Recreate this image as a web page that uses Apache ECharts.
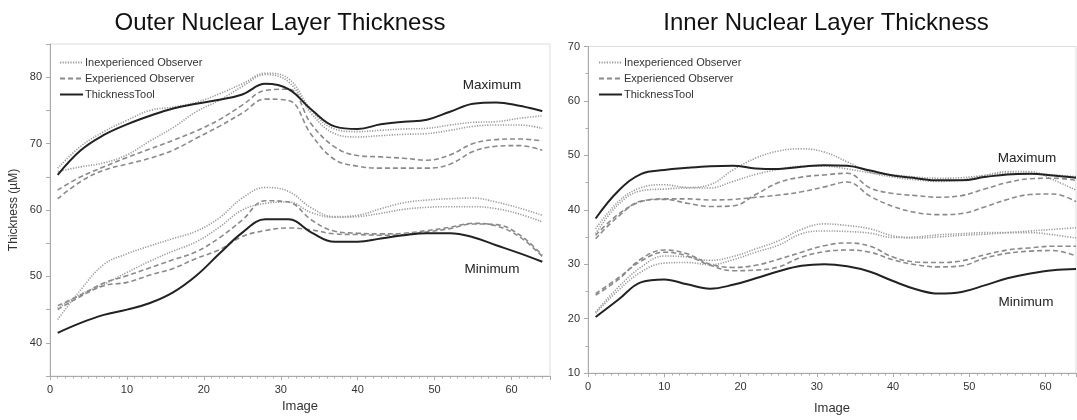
<!DOCTYPE html>
<html>
<head>
<meta charset="utf-8">
<script src="https://cdn.jsdelivr.net/npm/echarts@6/dist/echarts.min.js"></script>
<style>
  html, body { margin: 0; padding: 0; background: #fff; }
  #chart { width: 1077px; height: 420px; }
</style>
</head>
<body>
<div id="chart"></div>
<script>
// image index where each curve was read
const images = [1, 4, 7, 10, 13, 16, 19, 22, 25, 28, 31, 34, 37, 40, 43, 46, 49, 52, 55, 58, 61, 64]

// Outer nuclear layer - maximum
const onlMaxTool   = [65.3, 69.0, 71.3, 72.9, 74.2, 75.3, 76.0, 76.6, 77.4, 79.0, 78.2, 75.1, 72.6, 72.2, 72.9, 73.3, 73.6, 74.8, 76.0, 76.2, 75.7, 74.9]
const onlMaxInexpA = [66.3, 69.6, 71.8, 73.5, 75.0, 75.5, 76.2, 77.5, 79.0, 80.6, 79.8, 75.0, 72.2, 71.8, 72.0, 72.2, 72.3, 72.8, 73.2, 73.3, 73.8, 74.2]
const onlMaxInexpB = [65.8, 66.5, 67.1, 68.3, 70.4, 72.4, 74.8, 76.5, 78.6, 80.4, 79.3, 74.5, 71.5, 71.0, 71.2, 71.4, 71.5, 72.0, 72.6, 72.8, 72.8, 72.3]
const onlMaxExpA   = [63.0, 65.0, 66.5, 67.9, 69.2, 70.5, 71.9, 73.6, 75.8, 78.0, 78.2, 72.9, 69.5, 68.2, 68.0, 67.8, 67.5, 68.3, 70.0, 70.6, 70.7, 70.4]
const onlMaxExpB   = [61.7, 64.3, 66.0, 66.9, 67.8, 69.0, 70.8, 72.6, 74.6, 76.7, 76.5, 71.3, 67.6, 66.6, 66.3, 66.3, 66.3, 66.9, 68.8, 69.6, 69.7, 69.0]
// Outer nuclear layer - minimum
const onlMinTool   = [41.5, 43.0, 44.2, 45.0, 46.0, 47.6, 50.1, 53.4, 56.6, 58.6, 58.6, 56.6, 55.2, 55.2, 55.7, 56.2, 56.5, 56.5, 55.9, 54.7, 53.5, 52.2]
const onlMinInexpA = [43.5, 48.0, 51.8, 53.4, 54.6, 55.7, 56.8, 58.8, 61.8, 63.4, 62.8, 60.3, 59.0, 59.2, 60.2, 61.1, 61.5, 61.7, 61.8, 61.2, 60.3, 59.2]
const onlMinInexpB = [45.2, 47.3, 48.8, 50.6, 52.3, 53.8, 55.2, 57.4, 60.0, 61.0, 61.2, 59.6, 58.9, 59.0, 59.5, 60.1, 60.4, 60.5, 60.5, 60.2, 59.4, 58.2]
const onlMinExpA   = [45.6, 47.2, 49.0, 50.1, 51.3, 52.5, 53.7, 55.8, 58.5, 61.4, 61.2, 58.5, 56.8, 56.5, 56.4, 56.5, 56.9, 57.4, 58.0, 57.6, 56.0, 53.0]
const onlMinExpB   = [45.0, 47.0, 48.6, 49.1, 50.2, 51.2, 52.7, 54.0, 56.0, 56.9, 57.3, 57.0, 56.4, 56.3, 56.2, 56.3, 56.7, 57.2, 57.9, 57.8, 56.3, 53.2]

// Inner nuclear layer - maximum
const inlMaxTool   = [38.4, 43.5, 46.6, 47.3, 47.7, 48.0, 48.1, 47.6, 47.5, 47.9, 48.2, 48.1, 47.2, 46.3, 45.8, 45.4, 45.4, 46.0, 46.5, 46.6, 46.3, 45.9]
const inlMaxInexpA = [36.5, 41.5, 44.1, 44.6, 44.1, 44.6, 47.3, 49.5, 50.8, 51.2, 50.6, 48.8, 46.9, 46.0, 45.5, 45.2, 45.5, 46.3, 47.0, 47.0, 45.5, 43.6]
const inlMaxInexpB = [35.6, 41.0, 43.5, 43.8, 44.0, 44.0, 45.2, 46.5, 47.4, 48.0, 48.0, 47.5, 46.8, 46.4, 46.0, 45.8, 45.9, 46.3, 46.7, 46.6, 46.4, 46.1]
const inlMaxExpA   = [34.7, 38.8, 41.6, 41.9, 41.2, 40.6, 40.7, 42.8, 45.0, 46.0, 46.4, 46.7, 44.0, 43.0, 42.6, 42.3, 42.6, 43.8, 45.0, 45.7, 45.8, 45.4]
const inlMaxExpB   = [35.3, 39.2, 41.5, 42.0, 42.0, 41.8, 41.9, 42.3, 42.7, 43.3, 44.2, 45.1, 42.5, 40.6, 39.5, 39.1, 39.3, 40.5, 41.9, 42.8, 42.9, 41.5]
// Inner nuclear layer - minimum
const inlMinTool   = [20.3, 23.5, 26.7, 27.2, 26.3, 25.5, 26.2, 27.4, 28.7, 29.7, 30.0, 29.6, 28.6, 26.9, 25.4, 24.6, 24.9, 26.1, 27.4, 28.3, 28.9, 29.1]
const inlMinInexpA = [21.2, 25.8, 29.5, 31.5, 31.3, 30.7, 31.4, 32.8, 34.3, 36.4, 37.4, 37.1, 36.5, 35.2, 34.8, 35.0, 35.3, 35.5, 35.8, 36.1, 36.4, 36.7]
const inlMinInexpB = [21.0, 25.2, 28.6, 30.2, 30.3, 29.9, 30.8, 32.2, 33.5, 35.6, 36.1, 36.0, 35.7, 34.9, 35.0, 35.4, 35.6, 35.8, 35.8, 35.8, 35.4, 34.8]
const inlMinExpA   = [24.3, 27.2, 31.0, 32.6, 31.9, 30.0, 29.4, 29.8, 30.9, 32.2, 33.4, 33.9, 33.3, 31.3, 30.4, 30.3, 30.6, 31.7, 32.6, 33.0, 33.3, 33.3]
const inlMinExpB   = [24.6, 27.5, 30.6, 32.2, 31.5, 29.8, 28.8, 28.9, 29.5, 31.3, 32.3, 32.6, 32.2, 30.8, 29.9, 29.5, 29.7, 31.1, 32.0, 32.4, 32.5, 31.5]

const legendNames = ['Inexperienced Observer', 'Experienced Observer', 'ThicknessTool']
const titles = ['Outer Nuclear Layer Thickness', 'Inner Nuclear Layer Thickness']

const font = 'Liberation Sans, Arial, Helvetica, sans-serif'
const axisColor = '#aaaaaa'
const styles = {
  'Inexperienced Observer': { color: '#9a9a9a', width: 1.6, type: [1.2, 1.4] },
  'Experienced Observer': { color: '#8a8a8a', width: 1.6, type: [5, 3] },
  'ThicknessTool': { color: '#222222', width: 2 },
}

function line(name, ys, gridIndex) {
  return {
    name,
    type: 'line',
    xAxisIndex: gridIndex,
    yAxisIndex: gridIndex,
    data: images.map((x, i) => [x, ys[i]]),
    smooth: 0.4,
    symbol: 'none',
    lineStyle: styles[name],
    itemStyle: { color: styles[name].color },
    silent: true,
  }
}

function xAxis(gridIndex, max, nameGap) {
  return {
    type: 'value',
    gridIndex,
    min: 0,
    max,
    interval: 10,
    name: 'Image',
    nameLocation: 'middle',
    nameGap,
    nameTextStyle: { color: '#333', fontSize: 13, fontFamily: font },
    axisLine: { show: true, lineStyle: { color: axisColor } },
    axisTick: { show: true, length: 4, lineStyle: { color: axisColor } },
    minorTick: { show: true, splitNumber: 10, length: 2.5, lineStyle: { color: axisColor } },
    axisLabel: { color: '#333', fontSize: 11, fontFamily: font, margin: 8, showMaxLabel: false },
    splitLine: { show: false },
  }
}

const option = {
  animation: false,
  backgroundColor: '#fff',
  textStyle: { fontFamily: font },
  title: titles.map((t, i) => ({
    text: t,
    left: i === 0 ? 275 : 821,
    top: 6,
    textAlign: 'center',
    textStyle: { fontSize: 24, fontWeight: 'normal', color: '#111', fontFamily: font },
  })),
  legend: [54, 593].map(left => ({
    data: legendNames,
    orient: 'vertical',
    left,
    top: 52,
    itemWidth: 23,
    itemHeight: 10,
    itemGap: 5,
    selectedMode: false,
    itemStyle: { opacity: 0 },
    textStyle: { fontSize: 11, color: '#333', fontFamily: font, padding: [0, 0, 0, -3] },
  })),
  grid: [
    { left: 50, top: 44, width: 500, height: 332, show: true, borderColor: '#dddddd', borderWidth: 1 },
    { left: 588, top: 46.5, width: 488, height: 329.5, show: true, borderColor: '#dddddd', borderWidth: 1 },
  ],
  xAxis: [xAxis(0, 65, 23), xAxis(1, 64, 29)],
  yAxis: [
    {
      type: 'value', gridIndex: 0, min: 35, max: 85, interval: 5,
      name: 'Thickness (µM)', nameLocation: 'middle', nameGap: 30,
      nameTextStyle: { color: '#333', fontSize: 12, fontFamily: font },
      axisLine: { show: true, lineStyle: { color: axisColor } },
      axisTick: { show: true, length: 4, lineStyle: { color: axisColor } },
      axisLabel: {
        color: '#333', fontSize: 11, fontFamily: font, margin: 8,
        formatter: v => (v % 10 === 0 ? v : ''),
      },
      splitLine: { show: false },
    },
    {
      type: 'value', gridIndex: 1, min: 10, max: 70, interval: 10,
      axisLine: { show: true, lineStyle: { color: axisColor } },
      axisTick: { show: true, length: 4, lineStyle: { color: axisColor } },
      minorTick: { show: true, splitNumber: 2, length: 2.5, lineStyle: { color: axisColor } },
      axisLabel: { color: '#333', fontSize: 11, fontFamily: font, margin: 8 },
      splitLine: { show: false },
    },
  ],
  graphic: [
    { type: 'text', x: 492, y: 85, style: { text: 'Maximum', fill: '#222', font: '13.5px ' + font, align: 'center', verticalAlign: 'middle' } },
    { type: 'text', x: 492, y: 269, style: { text: 'Minimum', fill: '#222', font: '13.5px ' + font, align: 'center', verticalAlign: 'middle' } },
    { type: 'text', x: 1027, y: 158, style: { text: 'Maximum', fill: '#222', font: '13.5px ' + font, align: 'center', verticalAlign: 'middle' } },
    { type: 'text', x: 1026, y: 302, style: { text: 'Minimum', fill: '#222', font: '13.5px ' + font, align: 'center', verticalAlign: 'middle' } },
  ],
  series: [
    line('Inexperienced Observer', onlMaxInexpA, 0),
    line('Inexperienced Observer', onlMaxInexpB, 0),
    line('Experienced Observer', onlMaxExpA, 0),
    line('Experienced Observer', onlMaxExpB, 0),
    line('ThicknessTool', onlMaxTool, 0),
    line('Inexperienced Observer', onlMinInexpA, 0),
    line('Inexperienced Observer', onlMinInexpB, 0),
    line('Experienced Observer', onlMinExpA, 0),
    line('Experienced Observer', onlMinExpB, 0),
    line('ThicknessTool', onlMinTool, 0),
    line('Inexperienced Observer', inlMaxInexpA, 1),
    line('Inexperienced Observer', inlMaxInexpB, 1),
    line('Experienced Observer', inlMaxExpA, 1),
    line('Experienced Observer', inlMaxExpB, 1),
    line('ThicknessTool', inlMaxTool, 1),
    line('Inexperienced Observer', inlMinInexpA, 1),
    line('Inexperienced Observer', inlMinInexpB, 1),
    line('Experienced Observer', inlMinExpA, 1),
    line('Experienced Observer', inlMinExpB, 1),
    line('ThicknessTool', inlMinTool, 1),
  ],
}

const myChart = echarts.init(document.getElementById('chart'))
myChart.setOption(option)
</script>
</body>
</html>
